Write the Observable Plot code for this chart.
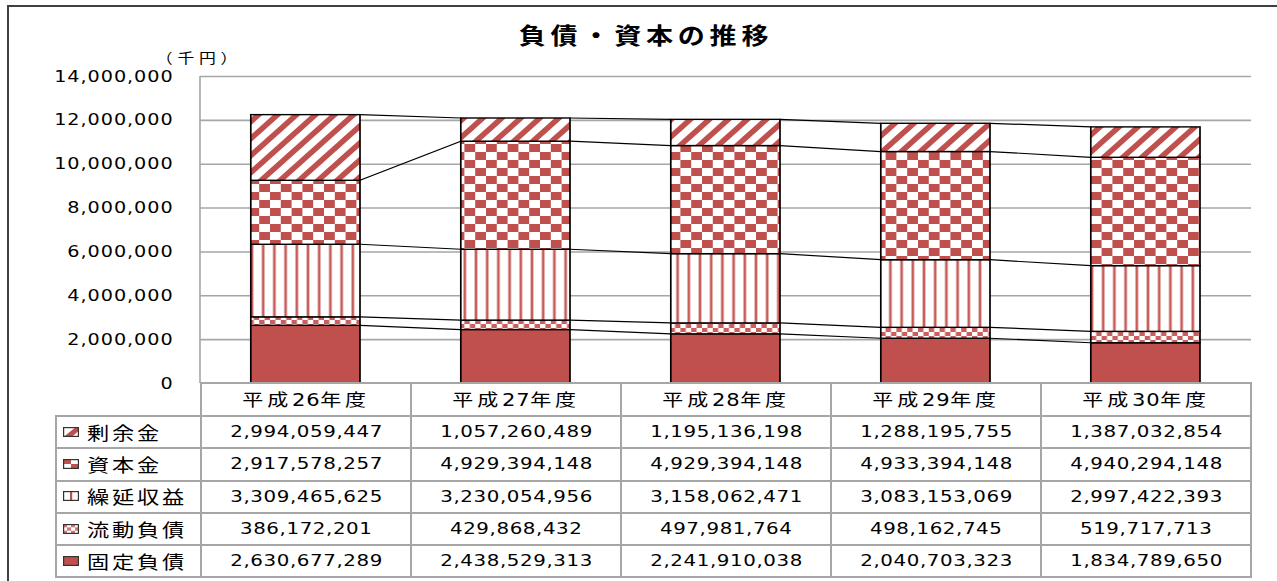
<!DOCTYPE html>
<html lang="ja">
<head>
<meta charset="utf-8">
<script src="https://cdn.jsdelivr.net/npm/d3@7"></script>
<script src="https://cdn.jsdelivr.net/npm/@observablehq/plot@0.6"></script>
<style>
html,body{margin:0;padding:0;background:#fff;}
#wrap{position:relative;width:1277px;height:581px;overflow:hidden;background:#fff;font-family:"DejaVu Sans","Noto Sans CJK JP",sans-serif;color:#000;}
#frame{position:absolute;left:7px;top:5px;width:1400px;height:700px;border-left:2px solid #404040;border-top:2px solid #404040;pointer-events:none;z-index:3;}
#title{position:absolute;left:0;top:16px;width:1292px;text-align:center;line-height:36px;font-family:"Noto Sans CJK JP",sans-serif;font-weight:700;font-size:22.5px;letter-spacing:4px;}
#unit{position:absolute;left:137px;top:45px;width:124px;text-align:center;line-height:24px;font-family:"Noto Sans CJK JP",sans-serif;font-size:14px;letter-spacing:4px;}
.sx{display:inline-block;transform:scaleX(1.2);white-space:nowrap;}
#chart{position:absolute;left:0;top:40px;}
#chart svg text{font-family:"DejaVu Sans",sans-serif;font-size:16px;letter-spacing:0.8px;fill:#000;}
#tbl{position:absolute;left:55px;top:382px;border-collapse:collapse;table-layout:fixed;z-index:2;}
#tbl td{border:2px solid #a6a6a6;padding:0;background:#fff;text-align:center;vertical-align:middle;white-space:nowrap;overflow:hidden;line-height:24px;}
#tbl td.corner{border:none;background:transparent;}
#tbl td.hd{font-size:17.5px;letter-spacing:3.2px;}
#tbl td.hd .dg{letter-spacing:0.6px;}
#tbl td.num{font-size:16.5px;letter-spacing:0.5px;}
#tbl td.lg{text-align:left;font-family:"Noto Sans CJK JP",sans-serif;font-size:18.5px;letter-spacing:2.3px;}
#tbl .lgl{transform-origin:left center;vertical-align:middle;position:relative;top:-2px;}
#tbl svg.sw{vertical-align:middle;margin-left:6px;margin-right:8px;position:relative;top:-2px;}
</style>
</head>
<body>
<div id="wrap">
  <div id="title"><span class="sx">負債・資本の推移</span></div>
  <div id="unit"><span class="sx" id="unitText"></span></div>
  <div id="chart"></div>
  <div id="frame"></div>
</div>
<script>
// ---- data ----
const categories = ["平成26年度", "平成27年度", "平成28年度", "平成29年度", "平成30年度"];
const fixedDebt       = [2630677289, 2438529313, 2241910038, 2040703323, 1834789650]; // 固定負債
const currentDebt     = [386172201, 429868432, 497981764, 498162745, 519717713];      // 流動負債
const deferredRevenue = [3309465625, 3230054956, 3158062471, 3083153069, 2997422393]; // 繰延収益
const capital         = [2917578257, 4929394148, 4929394148, 4933394148, 4940294148]; // 資本金
const surplus         = [2994059447, 1057260489, 1195136198, 1288195755, 1387032854]; // 剰余金
const yTicks = [0, 2000000, 4000000, 6000000, 8000000, 10000000, 12000000, 14000000];
const unitLabel = "（千円）";

// stacking order bottom -> top
const series = [
  {name: "固定負債", key: "fixed", values: fixedDebt},
  {name: "流動負債", key: "current", values: currentDebt},
  {name: "繰延収益", key: "deferred", values: deferredRevenue},
  {name: "資本金", key: "capital", values: capital},
  {name: "剰余金", key: "surplus", values: surplus}
];

document.getElementById("unitText").textContent = unitLabel;

const RED = "#C0504D";
const sx = 1.2, W = 1277, H = 353;
const plotLeft = 200, plotRight = 1251;

const rows = [];
categories.forEach((c, i) => series.forEach(s => rows.push({
  year: c, series: s.name, value: s.values[i] / 1000, fill: `url(#pat-${s.key})`
})));

const chart = Plot.plot({
  width: W / sx, height: H,
  marginLeft: plotLeft / sx, marginRight: (W - plotRight) / sx, marginTop: 36, marginBottom: 10,
  style: {overflow: "visible", background: "transparent"},
  x: {domain: categories, paddingInner: 0.48, paddingOuter: 0.24, axis: null},
  y: {domain: [0, 14000000], ticks: yTicks, tickFormat: d3.format(","), tickSize: 0, tickPadding: 27 / sx, label: null},
  color: {type: "identity"},
  marks: [
    Plot.ruleY(yTicks, {stroke: "#a6a6a6", strokeWidth: 1.6}),
    Plot.barY(rows, {x: "year", y: "value", fill: "fill", stroke: "#000", strokeWidth: 1.4})
  ]
});
chart.setAttribute("preserveAspectRatio", "none");
chart.setAttribute("width", W);
chart.style.width = W + "px";
chart.style.height = H + "px";
chart.style.maxWidth = "none";
chart.style.background = "transparent";
chart.style.overflow = "visible";
document.getElementById("chart").appendChild(chart);

const xs = chart.scale("x"), ys = chart.scale("y");
const svg = d3.select(chart);

// ---- patterns (user units are horizontally compressed by sx) ----
const defs = svg.insert("defs", ":first-child");
function pat(id, w, h) {
  const p = defs.append("pattern").attr("id", id).attr("patternUnits", "userSpaceOnUse")
    .attr("width", w).attr("height", h);
  p.append("rect").attr("width", w).attr("height", h).attr("fill", "#fff");
  return p;
}
{ // 剰余金: wide upward diagonal
  const w = 19 / sx, h = 17, p = pat("pat-surplus", w, h);
  p.append("path").attr("d", `M${-w},${h}L${w},${-h}M0,${h}L${w},0M0,${2 * h}L${2 * w},0`)
    .attr("stroke", RED).attr("stroke-width", 5);
}
{ // 資本金: large checker
  const w = 21.6 / sx, h = 16, p = pat("pat-capital", w, h);
  p.append("rect").attr("width", w / 2).attr("height", h / 2).attr("fill", RED);
  p.append("rect").attr("x", w / 2).attr("y", h / 2).attr("width", w / 2).attr("height", h / 2).attr("fill", RED);
}
{ // 繰延収益: vertical stripes
  const w = 11.2 / sx, h = 10, p = pat("pat-deferred", w, h);
  p.append("rect").attr("x", (w - 3.4 / sx) / 2).attr("width", 3.4 / sx).attr("height", h).attr("fill", "#e2a9a7");
  p.append("rect").attr("x", (w - 1.6 / sx) / 2).attr("width", 1.6 / sx).attr("height", h).attr("fill", RED);
}
{ // 流動負債: small checker
  const w = 10.8 / sx, h = 8, p = pat("pat-current", w, h);
  p.append("rect").attr("width", w / 2).attr("height", h / 2).attr("fill", "#c9605d");
  p.append("rect").attr("x", w / 2).attr("y", h / 2).attr("width", w / 2).attr("height", h / 2).attr("fill", "#c9605d");
}
{ // 固定負債: solid
  const p = pat("pat-fixed", 10, 10);
  p.select("rect").attr("fill", RED);
}

// ---- vertical axis line ----
svg.append("line")
  .attr("x1", xs.range[0]).attr("x2", xs.range[0])
  .attr("y1", ys.apply(yTicks[yTicks.length - 1])).attr("y2", ys.apply(0))
  .attr("stroke", "#a6a6a6").attr("stroke-width", 1.6 / sx);

// ---- series lines between bars ----
const cum = categories.map((c, i) => { let s = 0; return series.map(se => (s += se.values[i] / 1000)); });
const g = svg.append("g").attr("stroke", "#000").attr("stroke-width", 1.2).attr("fill", "none");
series.forEach((se, k) => {
  for (let i = 0; i < categories.length - 1; i++) {
    g.append("line")
      .attr("x1", xs.apply(categories[i]) + xs.bandwidth).attr("y1", ys.apply(cum[i][k]))
      .attr("x2", xs.apply(categories[i + 1])).attr("y2", ys.apply(cum[i + 1][k]));
  }
});

// ---- data table under the chart ----
const step = xs.step * sx;
const colLeft0 = (xs.apply(categories[0]) + xs.bandwidth / 2 - xs.step / 2) * sx;
const tableLeft = 55;
const legendW = colLeft0 - tableLeft;
const table = d3.select("#wrap").append("table").attr("id", "tbl")
  .style("left", tableLeft + "px")
  .style("width", (legendW + step * categories.length) + "px");
const cg = table.append("colgroup");
cg.append("col").style("width", legendW + "px");
categories.forEach(() => cg.append("col").style("width", step + "px"));

const hr = table.append("tr").style("height", "33px");
hr.append("td").attr("class", "corner");
categories.forEach(c => {
  const sp = hr.append("td").attr("class", "hd").append("span").attr("class", "sx");
  c.split(/(\d+)/).filter(t => t.length).forEach(t => {
    sp.append("span").attr("class", /^\d+$/.test(t) ? "dg" : null).text(t);
  });
});

function swatch(td, key) {
  const s = td.append("svg").attr("class", "sw").attr("width", 16).attr("height", 10);
  const w = 16, h = 10;
  s.append("rect").attr("width", w).attr("height", h).attr("fill", "#fff");
  if (key === "fixed") s.append("rect").attr("width", w).attr("height", h).attr("fill", RED);
  if (key === "surplus") {
    s.append("clipPath").attr("id", "clip-sw").append("rect").attr("width", w).attr("height", h);
    s.append("path").attr("d", `M2,${h + 2}L${w + 2},-1`).attr("stroke", RED).attr("stroke-width", 5).attr("clip-path", "url(#clip-sw)");
  }
  if (key === "capital") {
    s.append("rect").attr("width", w / 2).attr("height", h / 2).attr("fill", RED);
    s.append("rect").attr("x", w / 2).attr("y", h / 2).attr("width", w / 2).attr("height", h / 2).attr("fill", RED);
  }
  if (key === "deferred") s.append("rect").attr("x", w / 2 - 1).attr("width", 2.2).attr("height", h).attr("fill", RED);
  if (key === "current") {
    for (let i = 0; i < 4; i++) for (let j = 0; j < 3; j++)
      if ((i + j) % 2 === 0) s.append("rect").attr("x", i * 4).attr("y", j * 3.34).attr("width", 4).attr("height", 3.34).attr("fill", "#d27a77");
  }
  s.append("rect").attr("x", 0.6).attr("y", 0.6).attr("width", w - 1.2).attr("height", h - 1.2)
    .attr("fill", "none").attr("stroke", "#333").attr("stroke-width", 1.2);
}

[...series].reverse().forEach(se => {
  const tr = table.append("tr").style("height", "32.3px");
  const lg = tr.append("td").attr("class", "lg");
  swatch(lg, se.key);
  lg.append("span").attr("class", "sx lgl").text(se.name);
  se.values.forEach(v => tr.append("td").attr("class", "num").append("span").attr("class", "sx").text(d3.format(",")(v)));
});
</script>
</body>
</html>
